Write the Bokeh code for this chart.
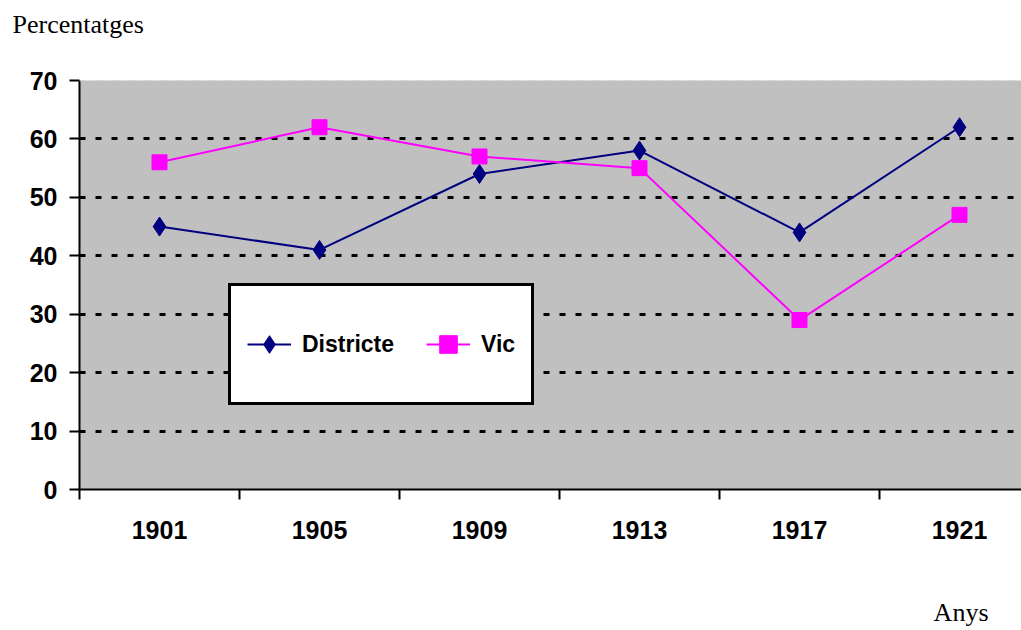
from bokeh.plotting import figure
from bokeh.models import (FixedTicker, Legend, LegendItem, Span, Range1d, Label)
from bokeh.embed import file_html
from bokeh.resources import INLINE

years = ["1901", "1905", "1909", "1913", "1917", "1921"]
districte = [45, 41, 54, 58, 44, 62]
vic = [56, 62, 57, 55, 29, 47]
y_ticks = [0, 10, 20, 30, 40, 50, 60, 70]

xs = list(range(len(years)))

W, H = 1021, 630
p = figure(width=W, height=H, output_backend="svg", toolbar_location=None,
           x_range=Range1d(-0.5, 5.3875), y_range=Range1d(0, 70),
           min_border_left=79, min_border_right=0, min_border_top=80,
           min_border_bottom=141)
p.outline_line_color = None
p.background_fill_color = "#C0C0C0"
p.border_fill_color = "white"

# axes
xa = p.xaxis[0]
xa.ticker = FixedTicker(ticks=xs, minor_ticks=[i - 0.5 for i in range(len(years) + 1)])
xa.major_label_overrides = {i: y for i, y in enumerate(years)}
xa.major_tick_out = 0
xa.major_tick_in = 0
xa.minor_tick_out = 10
xa.minor_tick_in = 0
xa.minor_tick_line_color = "black"
xa.minor_tick_line_width = 2
xa.axis_line_color = "black"
xa.axis_line_width = 2
xa.major_label_text_font = "Liberation Sans"
xa.major_label_text_font_style = "bold"
xa.major_label_text_font_size = "25px"
xa.major_label_text_color = "black"
xa.major_label_standoff = 21

ya = p.yaxis[0]
ya.ticker = FixedTicker(ticks=y_ticks)
ya.minor_tick_line_color = None
ya.major_tick_out = 10
ya.major_tick_in = 0
ya.major_tick_line_color = "black"
ya.major_tick_line_width = 2
ya.axis_line_color = "black"
ya.axis_line_width = 2
ya.major_label_text_font = "Liberation Sans"
ya.major_label_text_font_style = "bold"
ya.major_label_text_font_size = "25px"
ya.major_label_text_color = "black"
ya.major_label_standoff = 12

p.xgrid.visible = False
p.ygrid.ticker = FixedTicker(ticks=[t for t in y_ticks if 0 < t < 70])
p.ygrid.grid_line_color = "black"
p.ygrid.grid_line_width = 3
p.ygrid.grid_line_dash = "6 10"

p.add_layout(Span(location=70, dimension="width", line_color="#C8C8C8",
                  line_width=2, line_dash="6 10"))

# series
l1 = p.line(xs, districte, line_color="#000080", line_width=2)
m1 = p.scatter(xs, districte, marker="diamond", size=19,
               fill_color="#000080", line_color="#000080")
l2 = p.line(xs, vic, line_color="#FF00FF", line_width=2)
m2 = p.scatter(xs, vic, marker="square", size=15,
               fill_color="#FF00FF", line_color="#FF00FF")

legend = Legend(items=[LegendItem(label="Districte", renderers=[l1, m1]),
                       LegendItem(label="Vic", renderers=[l2, m2])],
                location=(149, 84), orientation="horizontal",
                glyph_width=44, glyph_height=84, label_height=84,
                label_standoff=11, spacing=32, padding=16, margin=0,
                border_line_color="black", border_line_width=3,
                border_line_alpha=1.0,
                background_fill_color="white", background_fill_alpha=1.0,
                label_text_font="Liberation Sans", label_text_font_style="bold",
                label_text_font_size="23px", label_text_color="black")
p.add_layout(legend, "center")

p.add_layout(Label(x=-67, y=56, x_units="screen", y_units="screen",
                   text="Percentatges", text_font="Liberation Serif",
                   text_font_size="26px", text_color="black",
                   text_align="left", text_baseline="alphabetic"), "above")
p.add_layout(Label(x=909, y=-42, x_units="screen", y_units="screen",
                   text="Anys", text_font="Liberation Serif",
                   text_font_size="26px", text_color="black",
                   text_align="right", text_baseline="alphabetic"), "below")

open("out.html", "w").write(file_html(p, INLINE))
